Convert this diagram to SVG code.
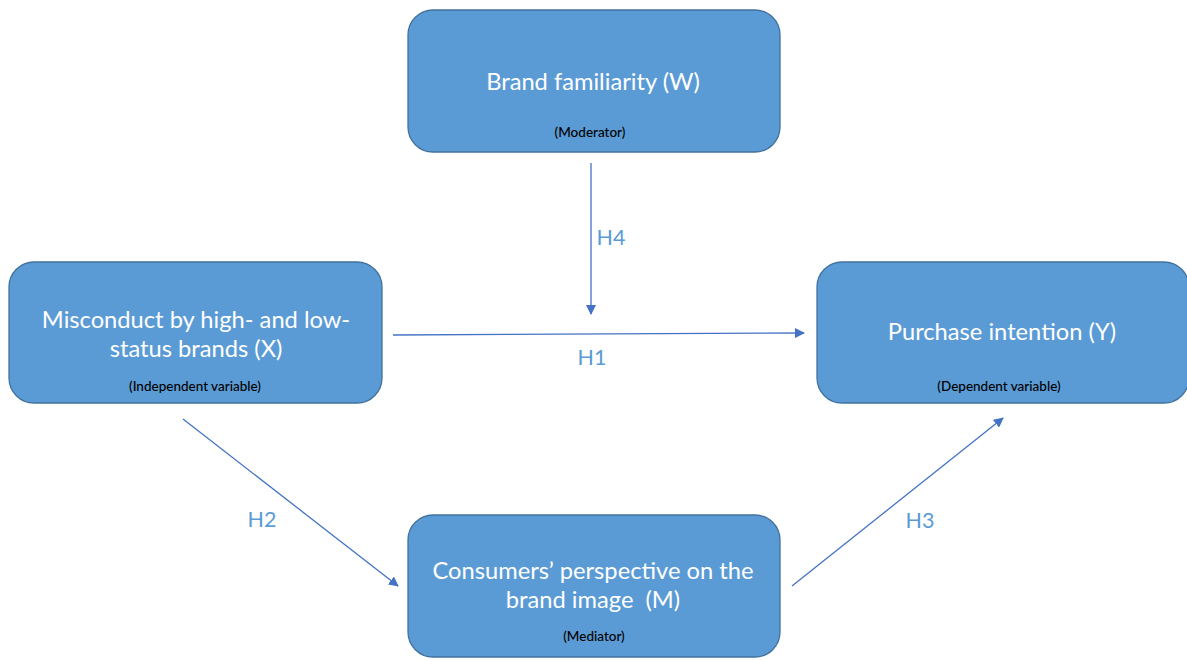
<svg xmlns="http://www.w3.org/2000/svg" width="1187" height="660" viewBox="0 0 1187 660">
<defs>
<marker id="ah" viewBox="0 0 10 10" refX="9" refY="5" markerWidth="10" markerHeight="10" markerUnits="userSpaceOnUse" orient="auto">
<path d="M0,0 L10,5 L0,10 z" fill="#4472C4"/>
</marker>
<style>
.box{fill:#5B9BD5;stroke:#41719C;stroke-width:1.3}
.t{font-family:Lato,"Open Sans","Liberation Sans",sans-serif;font-size:23.7px;fill:#FFFFFF;text-anchor:middle;white-space:pre}
.s{font-family:Lato,"Open Sans","Liberation Sans",sans-serif;font-size:13.5px;font-weight:500;fill:#000000;text-anchor:middle}
.c{stroke:#4472C4;stroke-width:1.3;fill:none;marker-end:url(#ah)}
.h{font-family:Lato,"Open Sans","Liberation Sans",sans-serif;font-size:21.5px;fill:#5B9BD5;text-anchor:middle}
</style>
</defs>
<rect width="1187" height="660" fill="#FFFFFF"/>
<g id="connectors">
<line class="c" x1="591" y1="163" x2="591" y2="314"/>
<line class="c" x1="393" y1="335" x2="804" y2="333"/>
<line class="c" x1="183" y1="419" x2="398" y2="586"/>
<line class="c" x1="792" y1="586" x2="1003" y2="418"/>
<text class="h" x="611" y="245">H4</text>
<text class="h" x="592" y="365">H1</text>
<text class="h" x="262" y="527">H2</text>
<text class="h" x="920" y="528">H3</text>
</g>
<g id="node-w">
<rect class="box" x="408" y="10" width="372" height="142" rx="25"/>
<text class="t" x="593" y="90">Brand familiarity (W)</text>
<text class="s" x="590" y="137">(Moderator)</text>
</g>
<g id="node-x">
<rect class="box" x="9" y="262" width="373" height="141" rx="25"/>
<text class="t" x="196" y="328">Misconduct by high- and low-</text>
<text class="t" x="196" y="357">status brands (X)</text>
<text class="s" x="195" y="391">(Independent variable)</text>
</g>
<g id="node-y">
<rect class="box" x="817" y="262" width="372" height="141" rx="25"/>
<text class="t" x="1002" y="340">Purchase intention (Y)</text>
<text class="s" x="999" y="391">(Dependent variable)</text>
</g>
<g id="node-m">
<rect class="box" x="408" y="515" width="372" height="142" rx="25"/>
<text class="t" x="593" y="579">Consumers’ perspective on the</text>
<text class="t" x="593" y="608" xml:space="preserve">brand image  (M)</text>
<text class="s" x="594" y="641">(Mediator)</text>
</g>
</svg>
